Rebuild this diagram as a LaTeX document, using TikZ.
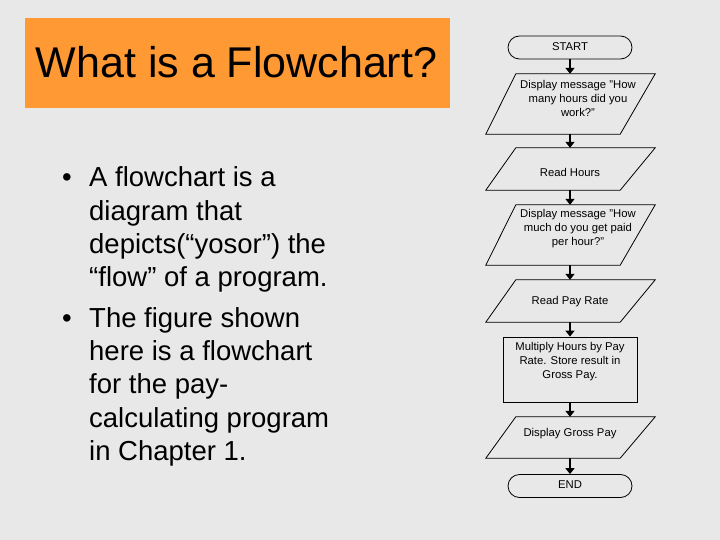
\documentclass[tikz,border=0pt]{standalone}
\usepackage{fontspec}
\setmainfont{Liberation Sans}
\usetikzlibrary{arrows.meta,shapes.misc}
\definecolor{bgray}{RGB}{232,232,232}
\definecolor{titleorange}{RGB}{255,153,51}
\tikzset{
  body/.style={anchor=base west,inner sep=0pt,font=\fontsize{27.5}{33}\selectfont},
  term/.style={rounded rectangle,draw,line width=0.8pt,minimum width=124pt,minimum height=23pt,inner sep=0pt},
  shapebox/.style={draw=none,inner sep=0pt,minimum width=169pt},
  procbox/.style={draw,line width=0.8pt,inner sep=0pt,minimum width=134pt,minimum height=65pt},
  ftext/.style={align=center,inner sep=0pt,font=\fontsize{11.3}{14}\selectfont},
  flow/.style={line width=2.4pt,-{Triangle[width=9pt,length=6pt]}},
}
\begin{document}
\begin{tikzpicture}[x=1pt,y=-1pt]
\fill[bgray] (0,0) rectangle (720,540);
\useasboundingbox (0,0) rectangle (720,540);
% title
\fill[titleorange] (25,18) rectangle (450,108);
\node[anchor=base,inner sep=0pt,font=\fontsize{43}{50}\selectfont] (title) at (236.5,78) {What is a Flowchart?};
% bullets
\node[body] (b1) at (62,187) {•};
\node[body] (l1) at (89,187) {A flowchart is a};
\node[body] (l2) at (89,220.3) {diagram that};
\node[body] (l3) at (89,253.6) {depicts(“yosor”) the};
\node[body] (l4) at (89,286.9) {“flow” of a program.};
\node[body] (b2) at (62,327.3) {•};
\node[body] (l5) at (89,327.3) {The figure shown};
\node[body] (l6) at (89,360.6) {here is a flowchart};
\node[body] (l7) at (89,393.9) {for the pay-};
\node[body] (l8) at (89,427.2) {calculating program};
\node[body] (l9) at (89,460.5) {in Chapter 1.};
% flowchart
\node[term] (start) at (570,47.5) {};
\node[ftext] (tstart) at (570,46.5) {START};
\node[shapebox,minimum height=60pt] (p1) at (570.5,104) {};
\node[ftext] (t1) at (578,98) {Display message "How\\many hours did you\\work?"};
\node[shapebox,minimum height=42pt] (p2) at (570.5,169) {};
\node[ftext] (t2) at (570,172) {Read Hours};
\node[shapebox,minimum height=60pt] (p3) at (570.5,235) {};
\node[ftext] (t3) at (578,229) {Display message "How\\much do you get paid\\per hour?"};
\node[shapebox,minimum height=42pt] (p4) at (570.5,301) {};
\node[ftext] (t4) at (570,302) {Read Pay Rate};
\node[procbox] (r1) at (570,369.5) {};
\node[ftext] (t5) at (570,362) {Multiply Hours by Pay\\Rate. Store result in\\Gross Pay.};
\node[shapebox,minimum height=41pt] (p5) at (570.5,437.5) {};
\node[ftext] (t6) at (570,434) {Display Gross Pay};
\node[term] (end) at (570,486) {};
\node[ftext] (tend) at (570,484.5) {END};
\foreach \n in {p1,p2,p3,p4,p5}
  \draw[line width=0.8pt] ([xshift=30pt]\n.north west) -- (\n.north east) -- ([xshift=-35pt]\n.south east) -- (\n.south west) -- cycle;
\draw[flow] (start) -- (p1.north -| start);
\draw[flow] (p1.south -| start) -- (p2.north -| start);
\draw[flow] (p2.south -| start) -- (p3.north -| start);
\draw[flow] (p3.south -| start) -- (p4.north -| start);
\draw[flow] (p4.south -| start) -- (r1);
\draw[flow] (r1) -- (p5.north -| start);
\draw[flow] (p5.south -| start) -- (end);
\end{tikzpicture}
\end{document}
